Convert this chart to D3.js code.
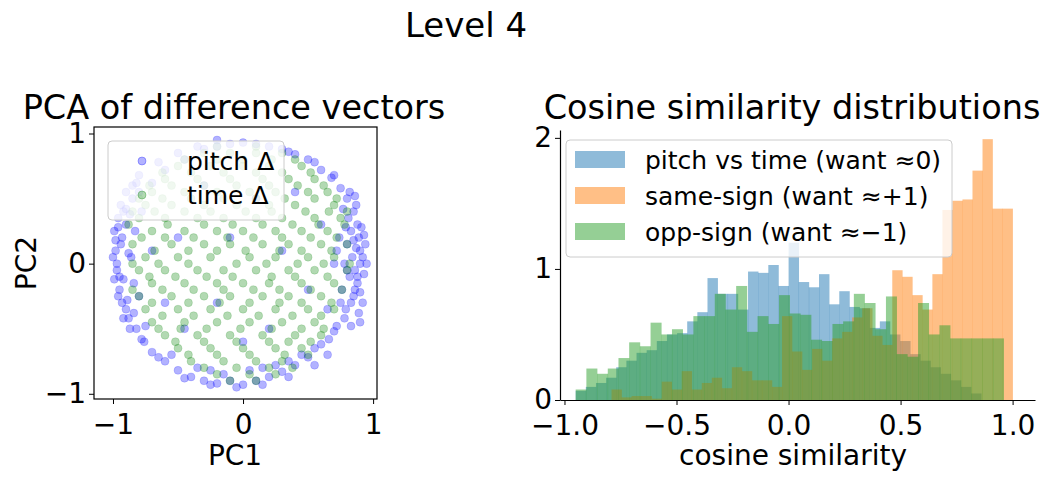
<!DOCTYPE html>
<html><head><meta charset="utf-8">
<script src="https://cdn.jsdelivr.net/npm/d3@7"></script>
<style>body{margin:0;background:#fff}text{font-family:"DejaVu Sans",sans-serif}</style>
</head><body><svg id="c" width="1050" height="480"></svg>
<script>
// ---------- data ----------
const pitchPts = [[-0.98,0.1],[-0.97,-0.05],[-0.99,0.25],[-0.96,0.35],[-0.95,-0.2],[-0.93,-0.3],[-0.9,0.42],[-0.88,-0.42],[-0.85,0.5],[-0.82,-0.5],[-0.97,0.0],[-0.94,0.15],[-0.92,-0.12],[-0.9,0.3],[-0.89,-0.28],[-0.86,0.05],[-0.84,-0.15],[-0.8,0.55],[-0.76,-0.6],[-0.7,-0.68],[-0.6,-0.75],[-0.5,-0.82],[-0.4,-0.87],[-0.3,-0.9],[-0.2,-0.92],[-0.1,-0.9],[0.0,-0.93],[0.1,-0.9],[0.2,-0.87],[0.3,-0.83],[0.4,-0.78],[0.5,-0.72],[0.6,-0.62],[0.7,-0.52],[0.78,-0.42],[0.83,-0.3],[0.86,-0.2],[0.88,-0.1],[0.9,0.0],[0.9,0.1],[0.89,0.2],[0.88,0.3],[0.85,0.4],[0.8,0.5],[0.75,0.58],[0.68,0.66],[0.6,0.72],[0.5,0.8],[0.4,0.84],[0.3,0.88],[0.2,0.9],[0.1,0.92],[0.0,0.93],[-0.1,0.92],[-0.2,0.9],[-0.3,0.88],[-0.45,0.8],[-0.6,0.72],[-0.7,0.62],
[0.82,-0.1],[0.84,0.05],[0.8,0.15],[0.85,-0.25],[0.87,0.12],[0.83,0.25],[0.79,-0.35],[0.81,0.35],[0.78,0.0],[0.86,-0.05],[0.88,-0.15],[0.76,-0.2],[0.74,0.2],[0.92,0.05],[0.9,-0.22],[0.85,0.18],[0.77,0.42],[0.72,-0.48],[0.66,-0.58],
[0.93,-0.08],[0.94,0.15],[0.92,-0.3],[0.91,0.28],[0.89,-0.38],[0.87,0.45],[0.83,-0.48],[0.82,0.55],[0.95,0.0],[0.93,0.22],[0.9,-0.45],[0.86,0.52],[0.8,-0.05],[0.79,0.28],[0.75,-0.3],[0.72,0.1],
[-0.95,-0.1],[-0.93,0.2],[-0.9,-0.35],[-0.88,0.08],[-0.87,0.38],[-0.84,-0.38],[-0.83,0.25],[-0.8,-0.25],[-0.78,0.4],[-0.75,-0.48],[-0.96,0.28],[-0.92,0.4],
[-1.0,0.05],[-0.99,-0.12],[-0.98,0.18],[-0.96,-0.25],[-0.94,0.45],[-0.92,-0.42],[-0.9,0.55],[-0.87,-0.5],[-0.82,0.62],[-0.78,-0.58],
[-0.55,-0.7],[-0.35,-0.8],[-0.15,-0.85],[0.05,-0.82],[0.25,-0.78],[0.45,-0.7],[0.55,-0.65],[-0.25,-0.82],[0.15,-0.8],[0.35,-0.75],
[-0.45,-0.88],[-0.25,-0.93],[-0.05,-0.95],[0.15,-0.93],[0.35,-0.87],[0.55,-0.78],[0.65,-0.7],[-0.65,-0.72],
[-0.5,0.2],[0.3,0.1],[-0.2,-0.3],[0.5,-0.2],[0.1,0.5],[-0.6,-0.3],[0.6,0.3],[-0.3,0.6],[0.2,-0.5],[-0.1,0.2],[0.4,0.55],[-0.45,-0.5],[0.65,-0.35],[0.0,-0.6],[-0.7,0.1],[0.7,0.0],
[-0.8,0.68],[-0.65,0.78],[-0.5,0.85],[-0.35,0.9],[0.35,0.86],[-0.2,0.95],[0.55,0.78],[0.7,0.68],[-0.85,0.6]];
const timeRowsY = [0.9,0.85,0.8,0.75,0.7,0.65,0.6,0.55,0.5,0.45,0.4,0.35,0.3,0.25,0.2,0.15,0.1,0.05,0.0,-0.05,-0.1,-0.15,-0.2,-0.25,-0.3,-0.35,-0.4,-0.45,-0.5,-0.55,-0.6,-0.65,-0.7,-0.75,-0.8,-0.85,-0.9];
const timeRowsX = [
 [-0.2,0.1],
 [-0.3,-0.1,0.1,0.3],
 [-0.45,-0.2,0.0,0.22,0.4],
 [-0.5,-0.25,0.0,0.2,0.45],
 [-0.62,-0.4,-0.15,0.1,0.3,0.52],
 [-0.6,-0.35,-0.1,0.15,0.35,0.55],
 [-0.72,-0.55,-0.3,-0.05,0.2,0.42,0.62],
 [-0.7,-0.45,-0.2,0.05,0.25,0.5,0.65],
 [-0.8,-0.62,-0.4,-0.15,0.1,0.32,0.55,0.72],
 [-0.75,-0.55,-0.3,-0.05,0.2,0.4,0.7],
 [-0.85,-0.68,-0.45,-0.25,0.02,0.22,0.48,0.66,0.8],
 [-0.8,-0.6,-0.35,-0.15,0.1,0.3,0.55,0.75],
 [-0.88,-0.58,-0.3,-0.08,0.15,0.38,0.58,0.78],
 [-0.7,-0.45,-0.2,0.0,0.25,0.45,0.65],
 [-0.78,-0.6,-0.38,-0.12,0.08,0.3,0.52,0.72],
 [-0.85,-0.55,-0.3,-0.1,0.15,0.35,0.6,0.8],
 [-0.68,-0.42,-0.2,0.02,0.28,0.45,0.68],
 [-0.75,-0.5,-0.25,0.05,0.25,0.5,0.7],
 [-0.85,-0.65,-0.42,-0.05,0.18,0.42,0.62,0.82],
 [-0.8,-0.6,-0.35,-0.15,0.1,0.35,0.55,0.8],
 [-0.72,-0.52,-0.28,-0.08,0.22,0.4,0.65],
 [-0.7,-0.45,-0.2,0.0,0.2,0.45,0.7],
 [-0.85,-0.62,-0.38,-0.15,0.08,0.28,0.52,0.76],
 [-0.8,-0.55,-0.3,-0.1,0.15,0.35,0.6],
 [-0.7,-0.42,-0.18,0.05,0.28,0.45,0.68],
 [-0.75,-0.5,-0.25,0.0,0.25,0.5,0.7],
 [-0.62,-0.38,-0.12,0.12,0.38,0.6],
 [-0.7,-0.45,-0.2,0.05,0.3,0.55],
 [-0.65,-0.48,-0.28,-0.02,0.22,0.45,0.62],
 [-0.6,-0.35,-0.1,0.15,0.4,0.6],
 [-0.52,-0.3,-0.05,0.2,0.35,0.52],
 [-0.5,-0.25,0.0,0.25,0.45],
 [-0.42,-0.2,0.05,0.32,0.5],
 [-0.4,-0.15,0.1,0.3],
 [-0.3,-0.05,0.2,0.38],
 [-0.2,0.05,0.25],
 [-0.1,0.1]];
const scatterTicks = [-1,0,1];

const histStart = {pitch:-0.95, same:-0.79, opp:-0.95};
const histEnd   = {pitch:0.86,  same:1.0,   opp:0.96};
const pitchVals = [0.07,0.1,0.13,0.17,0.25,0.3,0.36,0.38,0.45,0.5,0.51,0.6,0.67,0.93,0.81,0.81,0.69,0.98,0.97,1.03,0.87,1.2,0.9,0.86,0.96,0.73,0.83,0.71,0.7,0.55,0.6,0.5,0.45,0.35,0.3,0.25,0.2,0.15,0.1,0.05];
const sameVals  = [0.08,0.02,0.03,0.03,0.01,0.14,0.08,0.22,0.08,0.13,0.17,0.09,0.25,0.22,0.15,0.15,0.1,0.64,0.37,0.23,0.39,0.3,0.47,0.52,0.63,0.7,0.49,0.42,0.99,0.94,0.8,0.69,0.96,1.45,1.52,1.53,1.75,1.99,1.46,1.46];
const oppVals   = [0.08,0.24,0.2,0.24,0.32,0.44,0.41,0.59,0.5,0.54,0.5,0.64,0.64,0.81,0.69,0.87,0.52,0.64,0.58,0.8,0.66,0.65,0.46,0.45,0.58,0.6,0.81,0.74,0.54,0.79,0.35,0.33,0.74,0.5,0.57,0.47,0.47,0.47,0.47,0.47];
const histTicksX = [-1.0,-0.5,0.0,0.5,1.0];
const histTicksY = [0,1,2];
const histLabels = ["pitch vs time (want ≈0)","same-sign (want ≈+1)","opp-sign (want ≈−1)"];
const histColors = ["#1f77b4","#ff7f0e","#2ca02c"];

// ---------- drawing ----------
const svg = d3.select("#c");
const fmt = d => (d<0?"−":"")+Math.abs(d);
const fmt1 = d => (d<0?"−":"")+Math.abs(d).toFixed(1);

svg.append("text").attr("x",466).attr("y",37).attr("text-anchor","middle").attr("font-size",34).text("Level 4");

// scatter
const sx = d3.scaleLinear().domain([-1.146,1.03]).range([94,377]);
const sy = d3.scaleLinear().domain([-1.04,1.05]).range([399,127]);
const g1 = svg.append("g");
const timePts = [];
timeRowsY.forEach((y,i)=>timeRowsX[i].forEach(x=>timePts.push([x,y])));
g1.selectAll(".p").data(pitchPts).join("circle").attr("cx",d=>sx(d[0])).attr("cy",d=>sy(d[1])).attr("r",4).attr("fill","blue").attr("fill-opacity",0.3).attr("stroke","blue").attr("stroke-opacity",0.3).attr("stroke-width",0.5);
g1.selectAll(".t").data(timePts).join("circle").attr("cx",d=>sx(d[0])).attr("cy",d=>sy(d[1])).attr("r",4).attr("fill","green").attr("fill-opacity",0.3).attr("stroke","green").attr("stroke-opacity",0.3).attr("stroke-width",0.5);
g1.append("rect").attr("x",94).attr("y",127).attr("width",283).attr("height",272).attr("fill","none").attr("stroke","#000").attr("stroke-width",1.2);
const ax1 = g1.append("g").attr("transform","translate(0,399)").call(d3.axisBottom(sx).tickValues(scatterTicks).tickFormat(fmt).tickSize(5));
const ay1 = g1.append("g").attr("transform","translate(94,0)").call(d3.axisLeft(sy).tickValues(scatterTicks).tickFormat(fmt).tickSize(5));
[ax1,ay1].forEach(a=>{a.select(".domain").remove();a.selectAll("text").attr("font-size",28).attr("font-family","DejaVu Sans");});
ax1.selectAll("text").attr("dy","0.95em");
svg.append("text").attr("x",235).attr("y",465).attr("text-anchor","middle").attr("font-size",28).text("PC1");
svg.append("text").attr("transform","translate(36,263) rotate(-90)").attr("text-anchor","middle").attr("font-size",28).text("PC2");
svg.append("text").attr("x",234).attr("y",119).attr("text-anchor","middle").attr("font-size",33.5).text("PCA of difference vectors");
// scatter legend
const lg1 = svg.append("g");
lg1.append("rect").attr("x",108).attr("y",141).attr("width",176).attr("height",79).attr("rx",4).attr("fill","#fff").attr("fill-opacity",0.8).attr("stroke","#ccc");
[["pitch Δ","blue",161],["time Δ","green",195]].forEach(([t,c,y])=>{
  lg1.append("circle").attr("cx",142).attr("cy",y).attr("r",4).attr("fill",c).attr("fill-opacity",0.3).attr("stroke",c).attr("stroke-opacity",0.3);
  lg1.append("text").attr("x",187).attr("y",y+9).attr("font-size",25).text(t);
});

// histogram
const hx = d3.scaleLinear().domain([-1.02,1.1]).range([560,1035]);
const hy = d3.scaleLinear().domain([0,2.06]).range([400,130]);
const g2 = svg.append("g");
const series = [[pitchVals,histStart.pitch,histEnd.pitch],[sameVals,histStart.same,histEnd.same],[oppVals,histStart.opp,histEnd.opp]];
series.forEach(([vals,s,e],k)=>{
  const w=(e-s)/vals.length;
  g2.selectAll(".b"+k).data(vals).join("rect")
    .attr("x",(d,i)=>hx(s+i*w)).attr("width",(d,i)=>hx(s+(i+1)*w)-hx(s+i*w)+0.3)
    .attr("y",d=>hy(d)).attr("height",d=>hy(0)-hy(d))
    .attr("fill",histColors[k]).attr("fill-opacity",0.5);
});
const ax2 = g2.append("g").attr("transform","translate(0,400)").call(d3.axisBottom(hx).tickValues(histTicksX).tickFormat(fmt1).tickSize(5).tickSizeOuter(0));
const ay2 = g2.append("g").attr("transform","translate(560,0)").call(d3.axisLeft(hy).tickValues(histTicksY).tickFormat(fmt).tickSize(5).tickSizeOuter(0));
[ax2,ay2].forEach(a=>{a.select(".domain").attr("stroke-width",1.2);a.selectAll("text").attr("font-size",28).attr("font-family","DejaVu Sans");});
ax2.selectAll("text").attr("dy","0.95em");
svg.append("text").attr("x",793).attr("y",465).attr("text-anchor","middle").attr("font-size",28).text("cosine similarity");
svg.append("text").attr("x",792).attr("y",119).attr("text-anchor","middle").attr("font-size",33.5).text("Cosine similarity distributions");
const lg2 = svg.append("g");
lg2.append("rect").attr("x",566).attr("y",140).attr("width",386).attr("height",117).attr("rx",4).attr("fill","#fff").attr("fill-opacity",0.8).attr("stroke","#ccc");
histLabels.forEach((t,i)=>{
  const y=160+i*36;
  lg2.append("rect").attr("x",575).attr("y",y-9).attr("width",50).attr("height",17).attr("fill",histColors[i]).attr("fill-opacity",0.5);
  lg2.append("text").attr("x",645).attr("y",y+9).attr("font-size",25).text(t);
});
</script></body></html>
